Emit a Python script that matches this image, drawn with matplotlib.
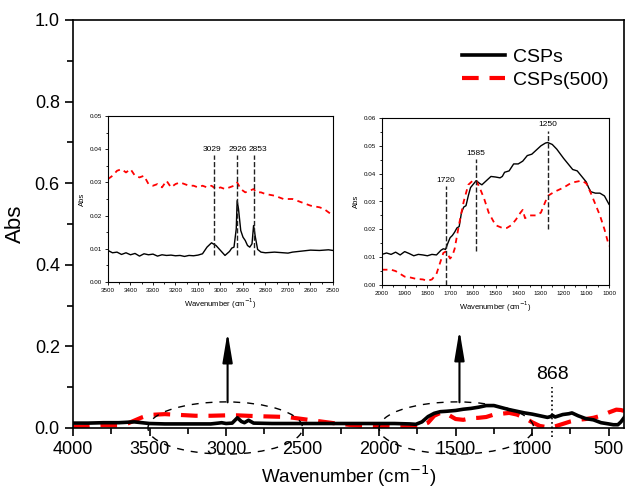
import matplotlib
matplotlib.use("Agg")
import matplotlib.pyplot as plt
from matplotlib.patches import Ellipse
from matplotlib.ticker import MultipleLocator, FormatStrFormatter

plt.rcParams['font.family'] = ['Liberation Sans', 'DejaVu Sans']

# main spectrum (4000-400 cm-1)
main_x = [4000, 3900, 3800, 3700, 3600, 3500, 3400, 3300, 3200, 3100,
          3050, 3029, 3000, 2960, 2926, 2900, 2880, 2853, 2820,
          2700, 2500, 2300, 2100, 2000, 1900, 1800, 1760, 1720, 1680,
          1640, 1600, 1560, 1500, 1450, 1400, 1350, 1300, 1250, 1200,
          1150, 1100, 1050, 1000, 950, 900, 880, 868, 850, 800,
          760, 740, 700, 650, 600, 550, 500, 470, 440, 420, 400]
main_csps = [0.012, 0.012, 0.013, 0.013, 0.015, 0.011, 0.010, 0.010, 0.010, 0.010,
             0.012, 0.013, 0.011, 0.012, 0.025, 0.016, 0.013, 0.019, 0.012,
             0.011, 0.011, 0.011, 0.011, 0.011, 0.011, 0.010, 0.009, 0.015, 0.028,
             0.036, 0.040, 0.041, 0.043, 0.046, 0.048, 0.051, 0.055, 0.055, 0.050,
             0.045, 0.041, 0.037, 0.034, 0.030, 0.026, 0.028, 0.031, 0.027, 0.033,
             0.035, 0.037, 0.030, 0.023, 0.020, 0.013, 0.010, 0.008, 0.008, 0.015, 0.025]
main_x500 = [4000, 3950, 3900, 3850, 3800, 3750, 3700, 3650, 3600, 3550, 3500,
             3400, 3300, 3200, 3100, 3000, 2926, 2800, 2700, 2600, 2500, 2400,
             2300, 2200, 2100, 2000, 1900, 1800, 1760, 1720, 1700, 1680,
             1640, 1600, 1585, 1550, 1500, 1450, 1400, 1350, 1300, 1250,
             1200, 1150, 1100, 1050, 1000, 950, 900, 870, 850, 800,
             750, 700, 650, 600, 550, 500, 450, 420, 400]
main_csps500 = [0.002, 0.003, 0.004, 0.006, 0.007, 0.006, 0.006, 0.010, 0.018, 0.026, 0.032,
                0.034, 0.032, 0.030, 0.030, 0.031, 0.031, 0.029, 0.028, 0.027, 0.022, 0.017,
                0.012, 0.008, 0.005, 0.003, 0.002, 0.002, 0.005, 0.012, 0.010, 0.013,
                0.030, 0.037, 0.038, 0.033, 0.022, 0.020, 0.024, 0.025, 0.027, 0.033,
                0.035, 0.037, 0.033, 0.025, 0.014, 0.005, 0.002, 0.002, 0.004, 0.010,
                0.016, 0.020, 0.022, 0.025, 0.030, 0.038, 0.045, 0.044, 0.042]

# inset 1: 3500-2500 cm-1
ins1_x = [3500, 3480, 3460, 3440, 3420, 3400, 3380, 3360, 3340, 3320, 3300, 3280, 3260,
          3240, 3220, 3200, 3180, 3160, 3140, 3120, 3100, 3080, 3060, 3040, 3020, 3000,
          2980, 2960, 2950, 2940, 2930, 2926, 2920, 2910, 2900, 2890, 2880, 2870, 2860,
          2853, 2845, 2835, 2820, 2800, 2760, 2720, 2700, 2680, 2640, 2600, 2560, 2520, 2500]
ins1_csps = [0.0095, 0.0088, 0.009, 0.0083, 0.0088, 0.0082, 0.0086, 0.0078, 0.0085, 0.0082,
             0.0084, 0.0078, 0.0082, 0.008, 0.0081, 0.0079, 0.008, 0.0077, 0.008, 0.0079,
             0.0081, 0.0085, 0.0105, 0.0118, 0.011, 0.0095,
             0.008, 0.0092, 0.0102, 0.0105, 0.016, 0.0245, 0.022, 0.0155, 0.0135, 0.0125,
             0.011, 0.0105, 0.0115, 0.017, 0.0135, 0.0098, 0.009, 0.0088,
             0.009, 0.0088, 0.0087, 0.009, 0.0093, 0.0096, 0.0095, 0.0097, 0.0095]
ins1_x500 = [3500, 3480, 3460, 3440, 3420, 3400, 3380, 3360, 3340, 3320, 3300, 3280, 3260,
             3240, 3220, 3200, 3180, 3160, 3140, 3120, 3100, 3080, 3060, 3040, 3020,
             3000, 2980, 2960, 2940, 2926, 2910, 2890, 2870, 2853, 2840, 2820, 2800,
             2760, 2720, 2680, 2640, 2600, 2560, 2540, 2520, 2500]
ins1_csps500 = [0.031, 0.032, 0.0335, 0.034, 0.033, 0.034, 0.032, 0.0315, 0.032, 0.0295,
                0.029, 0.0295, 0.0285, 0.0305, 0.0285, 0.0295, 0.030, 0.0295, 0.029, 0.029,
                0.0285, 0.029, 0.0285, 0.029, 0.028,
                0.0285, 0.028, 0.0285, 0.029, 0.030, 0.028, 0.027, 0.0275, 0.028, 0.027,
                0.027, 0.0265, 0.026, 0.025, 0.025, 0.024, 0.023, 0.0225, 0.022, 0.021, 0.020]
ins1_marks = [3029, 2926, 2853]
ins1_labels = ['3029', '2926', '2853']
ins1_label_x = [3038, 2924, 2832]

# inset 2: 2000-1000 cm-1
ins2_x = [2000, 1980, 1960, 1940, 1920, 1900, 1880, 1860, 1840, 1820, 1800, 1780, 1760, 1740,
          1730, 1720, 1710, 1700, 1690, 1680, 1670, 1660, 1650, 1640, 1630, 1620, 1610, 1600,
          1585, 1570, 1560, 1540, 1520, 1500, 1480, 1470, 1460, 1440, 1420, 1400, 1380, 1360,
          1340, 1320, 1300, 1280, 1270, 1250, 1230, 1200, 1180, 1160, 1140, 1120, 1100, 1090,
          1080, 1060, 1040, 1020, 1000]
ins2_csps = [0.011, 0.0115, 0.011, 0.0118, 0.0108, 0.012, 0.0113, 0.0105, 0.011, 0.0108,
             0.0105, 0.011, 0.0108, 0.0125,
             0.013, 0.0128, 0.015, 0.017, 0.0178, 0.019, 0.0205, 0.021, 0.026, 0.028, 0.0285,
             0.032, 0.035, 0.036,
             0.0375,
             0.0365, 0.036, 0.0375, 0.039, 0.0388, 0.0385, 0.039, 0.0405, 0.041, 0.0435, 0.0435,
             0.0445, 0.0465, 0.047, 0.0485, 0.050, 0.051, 0.0512,
             0.0505, 0.0488, 0.0455, 0.0435, 0.0415, 0.041, 0.039, 0.037, 0.035, 0.0335, 0.033,
             0.033, 0.032, 0.029]
ins2_x500 = [2000, 1960, 1940, 1920, 1900, 1880, 1850, 1820, 1800, 1780, 1760, 1740, 1730,
             1720, 1710, 1700, 1690, 1680, 1660, 1640, 1620, 1600, 1585, 1570, 1550, 1530,
             1500, 1470, 1450, 1430, 1410, 1390, 1380, 1370, 1350, 1320, 1300, 1270, 1240,
             1200, 1170, 1150, 1120, 1100, 1080, 1060, 1040, 1020, 1000]
ins2_csps500 = [0.0055, 0.0055, 0.005, 0.004, 0.003, 0.0028, 0.0022, 0.002, 0.0015, 0.002,
                0.004, 0.009, 0.0115, 0.012, 0.011, 0.0095, 0.0105, 0.013, 0.022, 0.030,
                0.036, 0.0375, 0.0375, 0.035, 0.031, 0.026, 0.0215, 0.0205, 0.0205, 0.0215,
                0.0235, 0.026, 0.027, 0.024, 0.025, 0.025, 0.026, 0.032, 0.0335, 0.035,
                0.0365, 0.037, 0.0375, 0.0365, 0.033, 0.029, 0.025, 0.020, 0.014]
ins2_marks = [1720, 1585, 1270]
ins2_labels = ['1720', '1585', '1250']

fig = plt.figure(figsize=(6.25, 4.94), dpi=100)
ax = fig.add_axes([73 / 625, 1 - 428 / 494, 551 / 625, 408 / 494])

ax.plot(main_x, main_csps, color='black', lw=2.6, label='CSPs', zorder=3)
ax.plot(main_x500, main_csps500, color='red', lw=3, dashes=(4, 2.6), label='CSPs(500)', zorder=2)

ax.set_xlim(4000, 400)
ax.set_ylim(0, 1.0)
ax.xaxis.set_major_locator(MultipleLocator(500))
ax.xaxis.set_minor_locator(MultipleLocator(250))
ax.yaxis.set_major_locator(MultipleLocator(0.2))
ax.yaxis.set_minor_locator(MultipleLocator(0.1))
ax.tick_params(which='both', direction='out', width=1.2, labelsize=13, top=False, right=False)
ax.tick_params(which='major', length=6)
ax.tick_params(which='minor', length=4)
for s in ax.spines.values():
    s.set_linewidth(1.2)
ax.set_xlabel('Wavenumber (cm$^{-1}$)', fontsize=13.5, labelpad=4)
ax.set_ylabel('Abs', fontsize=16, labelpad=6)

ax.legend(loc='upper right', bbox_to_anchor=(0.972, 0.93), frameon=False, fontsize=14,
          handlelength=2.2, labelspacing=0.28, borderaxespad=0, borderpad=0, handletextpad=0.4)

# dashed ellipses around the zoomed regions, arrows to insets
for cx in [3005, 1495]:
    ax.add_patch(Ellipse((cx, 0), 1010, 0.128, fill=False, ls=(0, (5, 5)), lw=1.0,
                         color='black', clip_on=False, zorder=4))
for ax_x, top in [(2990, 0.235), (1475, 0.24)]:
    ax.annotate('', xy=(ax_x, top), xytext=(ax_x, 0.063),
                arrowprops=dict(arrowstyle='-|>,head_length=0.9,head_width=0.15',
                                mutation_scale=20, lw=1.5, color='black',
                                shrinkA=0, shrinkB=0))

ax.plot([868, 868], [-0.022, 0.1], color='black', ls=':', lw=1.2, clip_on=False)
ax.text(868, 0.11, '868', fontsize=14, ha='center', va='bottom')


def style_inset(a, xlo, xhi, ytop):
    a.set_xlim(xlo, xhi)
    a.set_ylim(0, ytop)
    a.xaxis.set_major_locator(MultipleLocator(100))
    a.xaxis.set_minor_locator(MultipleLocator(50))
    a.yaxis.set_major_locator(MultipleLocator(0.01))
    a.yaxis.set_minor_locator(MultipleLocator(0.005))
    a.yaxis.set_major_formatter(FormatStrFormatter('%.2f'))
    a.tick_params(which='both', direction='out', width=0.6, labelsize=4.5, pad=1.5,
                  top=False, right=False)
    a.tick_params(which='major', length=2.5)
    a.tick_params(which='minor', length=1.5)
    for s in a.spines.values():
        s.set_linewidth(0.8)
    a.set_xlabel('Wavenumber (cm$^{-1}$)', fontsize=5.5, labelpad=3)
    a.set_ylabel('Abs', fontsize=5.5, labelpad=3)


ax1 = fig.add_axes([108 / 625, 1 - 282 / 494, 225 / 625, 166 / 494])
ax1.plot(ins1_x, ins1_csps, color='black', lw=1.0)
ax1.plot(ins1_x500, ins1_csps500, color='red', lw=1.3, dashes=(3, 2.5))
style_inset(ax1, 3500, 2500, 0.05)
for xm, lab, lx in zip(ins1_marks, ins1_labels, ins1_label_x):
    ax1.plot([xm, xm], [0.008, 0.0383], color='#222222', ls='--', lw=1.0)
    ax1.text(lx, 0.0388, lab, fontsize=6, ha='center', va='bottom')

ax2 = fig.add_axes([382 / 625, 1 - 285 / 494, 227 / 625, 167 / 494])
ax2.plot(ins2_x, ins2_csps, color='black', lw=1.0)
ax2.plot(ins2_x500, ins2_csps500, color='red', lw=1.3, dashes=(3, 2.5))
style_inset(ax2, 2000, 1000, 0.06)
ins2_spans = [(0.0, 0.0355), (0.0123, 0.0451), (0.0202, 0.0555)]
for xm, lab, (y0, y1) in zip(ins2_marks, ins2_labels, ins2_spans):
    ax2.plot([xm, xm], [y0, y1], color='#222222', ls='--', lw=1.0)
    ax2.text(xm, y1 + 0.0008, lab, fontsize=6, ha='center', va='bottom')

fig.savefig('out.png', dpi=100)
